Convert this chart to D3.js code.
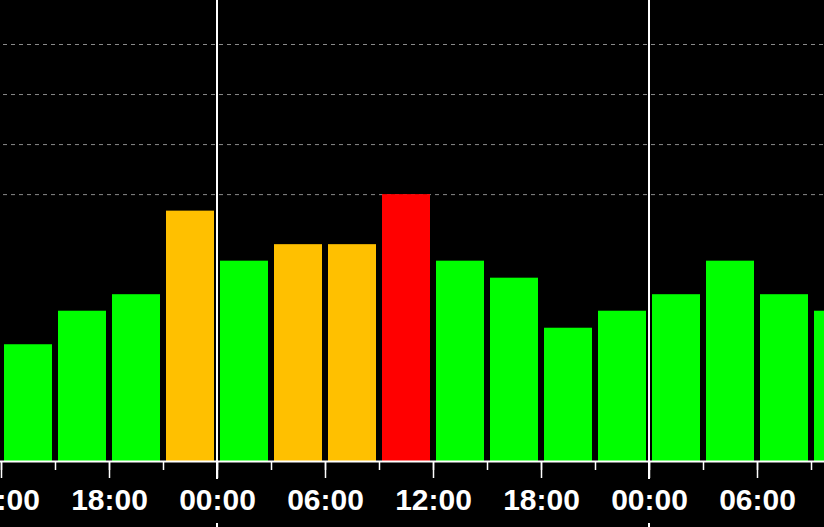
<!DOCTYPE html>
<html>
<head>
<meta charset="utf-8">
<script src="https://cdn.jsdelivr.net/npm/d3@7"></script>
<style>
  html, body { margin: 0; padding: 0; background: #000; overflow: hidden; }
  svg { display: block; }
</style>
</head>
<body>
<script>
// 3-hourly Kp readings, starting 12:00 on day 1
var startTimes = ["2024-05-10T12:00Z", "2024-05-10T15:00Z", "2024-05-10T18:00Z", "2024-05-10T21:00Z",
                  "2024-05-11T00:00Z", "2024-05-11T03:00Z", "2024-05-11T06:00Z", "2024-05-11T09:00Z",
                  "2024-05-11T12:00Z", "2024-05-11T15:00Z", "2024-05-11T18:00Z", "2024-05-11T21:00Z",
                  "2024-05-12T00:00Z", "2024-05-12T03:00Z", "2024-05-12T06:00Z", "2024-05-12T09:00Z"];
var kpValues = [3, 3.67, 4, 5.67, 4.67, 5, 5, 6, 4.67, 4.33, 3.33, 3.67, 4, 4.67, 4, 3.67];
var gridValues = [6, 7, 8, 9];
var midnights = ["2024-05-11T00:00Z", "2024-05-12T00:00Z"];

var width = 824, height = 527;
var axisY = 461;

var svg = d3.select("body").append("svg")
    .attr("width", width)
    .attr("height", height);

svg.append("rect").attr("width", width).attr("height", height).attr("fill", "#000");

var parse = d3.utcParse("%Y-%m-%dT%H:%MZ");
var data = startTimes.map(function(t, i) { return { t: parse(t), kp: kpValues[i] }; });

var hour = 3600 * 1000;
var t0 = new Date(parse("2024-05-10T12:00Z").getTime() - hour / 18);
var x = d3.scaleUtc()
    .domain([t0, new Date(t0.getTime() + width / 18 * hour)])
    .range([0, width]);

var y = d3.scaleLinear()
    .domain([2 / 3, 9])
    .range([axisY, 44]);

function color(v) {
  if (v >= 6) return "#ff0000";
  if (v >= 5) return "#ffc000";
  return "#00ff00";
}

// dashed grid
svg.append("g").selectAll("line")
    .data(gridValues)
    .enter().append("line")
      .attr("x1", 0).attr("x2", width)
      .attr("y1", function(d) { return y(d) + 0.5; })
      .attr("y2", function(d) { return y(d) + 0.5; })
      .attr("stroke", "#8a8a8a")
      .attr("stroke-width", 1)
      .attr("stroke-dasharray", "4,4")
      .attr("stroke-dashoffset", -3);

// bars
svg.append("g").selectAll("rect")
    .data(data)
    .enter().append("rect")
      .attr("x", function(d) { return x(d.t) + 3; })
      .attr("width", function(d) { return x(new Date(d.t.getTime() + 3 * hour)) - x(d.t) - 6; })
      .attr("y", function(d) { return y(d.kp); })
      .attr("height", function(d) { return axisY - y(d.kp); })
      .attr("fill", function(d) { return color(d.kp); });

// day separators
svg.append("g").selectAll("line")
    .data(midnights.map(parse))
    .enter().append("line")
      .attr("x1", function(d) { return x(d); })
      .attr("x2", function(d) { return x(d); })
      .attr("y1", 0).attr("y2", height)
      .attr("stroke", "#fff")
      .attr("stroke-width", 2);

// x axis
var minor = svg.append("g")
    .attr("transform", "translate(0," + axisY + ")")
    .call(d3.axisBottom(x).ticks(d3.utcHour.every(3)).tickSize(9).tickFormat(""));
minor.select(".domain").remove();
minor.selectAll("line").attr("stroke", "#fff").attr("stroke-width", 1.5);

var xAxis = svg.append("g")
    .attr("transform", "translate(0," + axisY + ")")
    .call(d3.axisBottom(x)
      .ticks(d3.utcHour.every(6))
      .tickSize(17)
      .tickPadding(0)
      .tickFormat(d3.utcFormat("%H:%M")));

xAxis.select(".domain")
    .attr("d", "M0,0.5H" + width)
    .attr("stroke", "#fff")
    .attr("stroke-width", 2);
xAxis.selectAll(".tick line").attr("stroke", "#fff").attr("stroke-width", 1.5);

xAxis.selectAll(".tick").insert("rect", "text")
    .attr("x", -42).attr("width", 84)
    .attr("y", 18).attr("height", 44)
    .attr("fill", "#000");

xAxis.selectAll(".tick text")
    .attr("y", 49)
    .attr("dy", null)
    .attr("fill", "#fff")
    .style("font-family", "'Liberation Sans', Arial, sans-serif")
    .style("font-weight", "bold")
    .style("font-size", "30px");
</script>
</body>
</html>
